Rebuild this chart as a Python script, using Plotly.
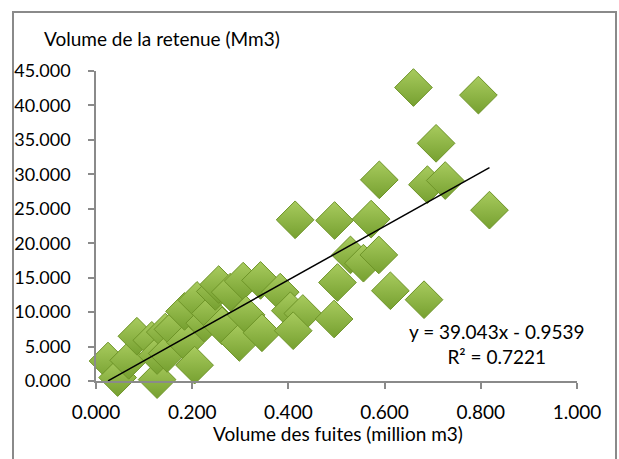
import plotly.graph_objects as go

# Data
fuites = [0.025, 0.045, 0.068, 0.085, 0.092, 0.116, 0.127, 0.127, 0.144, 0.148,
          0.160, 0.186, 0.205, 0.184, 0.210, 0.226, 0.238, 0.248, 0.255, 0.262,
          0.279, 0.298, 0.306, 0.312, 0.342, 0.345, 0.383, 0.404, 0.430, 0.410,
          0.414, 0.495, 0.496, 0.502, 0.529, 0.556, 0.588, 0.572, 0.589, 0.612,
          0.660, 0.682, 0.689, 0.707, 0.726, 0.795, 0.818]
retenue = [2.9, 0.5, 3.0, 6.5, -0.4, 5.9, 0.2, 3.7, 7.1, 4.0,
           7.5, 5.6, 2.3, 10.1, 11.7, 8.4, 9.8, 13.0, 14.0, 8.0,
           12.9, 5.6, 14.5, 9.6, 14.6, 7.0, 12.9, 10.2, 9.8, 7.3,
           23.4, 9.0, 23.3, 14.3, 18.3, 17.1, 18.3, 23.5, 29.2, 13.1,
           42.6, 11.8, 28.5, 34.5, 29.1, 41.5, 24.8]

slope = 39.043
intercept = -0.9539
r2 = 0.7221

x_ticks = [0.0, 0.2, 0.4, 0.6, 0.8, 1.0]
x_tick_labels = ["0.000", "0.200", "0.400", "0.600", "0.800", "1.000"]
y_ticks = [0, 5, 10, 15, 20, 25, 30, 35, 40, 45]
y_tick_labels = ["0.000", "5.000", "10.000", "15.000", "20.000", "25.000",
                 "30.000", "35.000", "40.000", "45.000"]

FONT = "Lato"

fig = go.Figure()
fig.add_trace(go.Scatter(
    x=fuites, y=retenue, mode="markers",
    marker=dict(symbol="diamond", size=29, color="#a8cb5e",
                gradient=dict(type="vertical", color="#76a030"),
                line=dict(color="#6e9428", width=1)),
    cliponaxis=False, showlegend=False,
))

xmin, xmax = min(fuites), max(fuites)
fig.add_trace(go.Scatter(
    x=[xmin, xmax], y=[slope * xmin + intercept, slope * xmax + intercept],
    mode="lines", line=dict(color="black", width=1.5), showlegend=False,
    cliponaxis=False,
))

W, H = 619, 459
# chart frame (paper area) in pixels
FL, FR, FT, FB = 10, 617, 10, 459
fw, fh = FR - FL, FB - FT
# plot box in pixels
PL, PR, PT, PB = 96, 577, 71, 381

def px_x(p):  # pixel -> paper x
    return (p - FL) / fw

def px_y(p):  # pixel -> paper y
    return (FB - p) / fh

fig.add_shape(type="rect", xref="paper", yref="paper",
              x0=px_x(13), x1=px_x(616), y0=px_y(470), y1=px_y(12),
              line=dict(color="#8a8a8a", width=2), layer="above")

fig.add_annotation(xref="paper", yref="paper", x=px_x(161.5), y=px_y(39),
                   xanchor="center", yanchor="middle", showarrow=False,
                   text="Volume de la retenue (Mm3)",
                   font=dict(family=FONT, size=19, color="black"))
fig.add_annotation(xref="paper", yref="paper", x=px_x(338), y=px_y(433),
                   xanchor="center", yanchor="middle", showarrow=False,
                   text="Volume des fuites (million m3)",
                   font=dict(family=FONT, size=19, color="black"))
fig.add_annotation(xref="paper", yref="paper", x=px_x(497), y=px_y(344),
                   xanchor="center", yanchor="middle", showarrow=False,
                   text=f"y = {slope:.3f}x - {abs(intercept):.4f}<br>R² = {r2:.4f}",
                   align="center",
                   font=dict(family=FONT, size=19, color="black"))

axis_common = dict(showgrid=False, zeroline=False, showline=True,
                   linecolor="#8a8a8a", linewidth=1.5, ticks="outside",
                   ticklen=6, tickcolor="#8a8a8a", tickwidth=1.5)

fig.update_xaxes(range=[0, 1], tickvals=x_ticks, ticktext=x_tick_labels,
                 domain=[px_x(PL), px_x(PR)],
                 tickfont=dict(family=FONT, size=19, color="black"),
                 ticklabelstandoff=7, **axis_common)
fig.update_yaxes(range=[0, 45], tickvals=y_ticks, ticktext=y_tick_labels,
                 domain=[px_y(PB), px_y(PT)],
                 tickfont=dict(family=FONT, size=18, color="black"),
                 ticklabelstandoff=14, **axis_common)

fig.update_layout(
    width=W, height=H,
    margin=dict(l=FL, r=W - FR, t=FT, b=H - FB, pad=0, autoexpand=False),
    paper_bgcolor="white", plot_bgcolor="white",
    font=dict(family=FONT),
)

fig.write_html(
    "out.html",
    config={"displayModeBar": False},
    post_script="document.body.style.margin='0';document.body.style.overflow='hidden';",
)
